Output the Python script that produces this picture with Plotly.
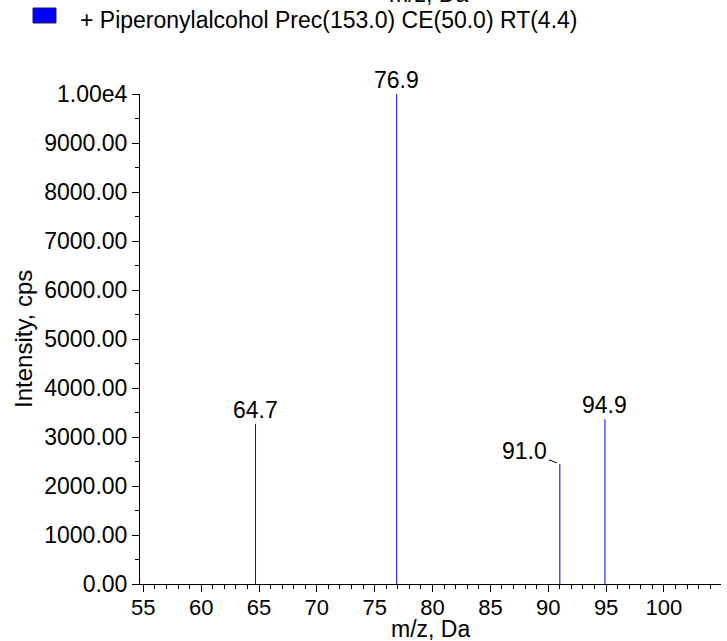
import plotly.graph_objects as go

# ---- data ----
peak_mz = [64.7, 76.9, 91.0, 94.9]
peak_intensity = [3268, 10000, 2450, 3364]
peak_labels = ["64.7", "76.9", "91.0", "94.9"]
x_tickvals = [55, 60, 65, 70, 75, 80, 85, 90, 95, 100]
y_tickvals = [0, 1000, 2000, 3000, 4000, 5000, 6000, 7000, 8000, 9000, 10000]
y_ticktext = ["0.00", "1000.00", "2000.00", "3000.00", "4000.00", "5000.00",
              "6000.00", "7000.00", "8000.00", "9000.00", "1.00e4"]
legend_text = "+ Piperonylalcohol Prec(153.0) CE(50.0) RT(4.4)"
x_title = "m/z, Da"
y_title = "Intensity, cps"
x_range = [54.715, 104.93]
y_range = [0, 10000]

FONT = "Liberation Sans, Arial, sans-serif"
W, H = 727, 641
ML, MR, MT, MB = 140, 6, 94, 57
PW, PH = W - ML - MR, H - MT - MB


def px_x(p):
    return (p - ML) / PW


def px_y(p):
    return (H - MB - p) / PH


# stick spectrum built from the peak arrays
xs, ys = [], []
for m, v in zip(peak_mz, peak_intensity):
    xs += [m, m, None]
    ys += [0, v, None]

fig = go.Figure()
fig.add_trace(go.Scatter(x=xs, y=ys, mode="lines",
                         line=dict(color="#0000FF", width=1),
                         hoverinfo="skip", showlegend=False, cliponaxis=False))

annotations = []
for m, v, t in zip(peak_mz, peak_intensity, peak_labels):
    if t == "91.0":
        annotations.append(dict(x=m, y=v, xref="x", yref="y", text=t,
                                showarrow=True, arrowhead=0, arrowwidth=1,
                                arrowcolor="black", ax=-35, ay=-13, standoff=3,
                                font=dict(family=FONT, size=23, color="black")))
    else:
        annotations.append(dict(x=m, y=v, xref="x", yref="y", text=t,
                                showarrow=False, xanchor="center", yanchor="bottom",
                                yshift=-1,
                                font=dict(family=FONT, size=23, color="black")))

# legend text and axis titles
annotations.append(dict(x=px_x(78), y=px_y(20), xref="paper", yref="paper",
                        text=legend_text, showarrow=False, xanchor="left",
                        yanchor="middle",
                        font=dict(family=FONT, size=23, color="black")))
annotations.append(dict(x=px_x(428), y=px_y(-6), xref="paper", yref="paper",
                        text=x_title, showarrow=False, xanchor="center",
                        yanchor="middle",
                        font=dict(family=FONT, size=23, color="black")))
annotations.append(dict(x=px_x(430), y=px_y(629), xref="paper", yref="paper",
                        text=x_title, showarrow=False, xanchor="center",
                        yanchor="middle",
                        font=dict(family=FONT, size=23, color="black")))
annotations.append(dict(x=px_x(23), y=px_y(339), xref="paper", yref="paper",
                        text=y_title, showarrow=False, textangle=-90,
                        xanchor="center", yanchor="middle",
                        font=dict(family=FONT, size=24, color="black")))

shapes = [
    # legend swatch
    dict(type="rect", xref="paper", yref="paper",
         x0=px_x(33), x1=px_x(56), y0=px_y(23), y1=px_y(8),
         fillcolor="#0000FF", line=dict(color="#202040", width=1)),
    # origin marker triangle
    dict(type="path", xref="x", yref="y", xsizemode="pixel", ysizemode="pixel",
         xanchor=x_range[0], yanchor=0,
         path="M -10,14.5 L 0,4.5 L -10,-4.5 Z",
         fillcolor="#0000FF", line=dict(color="black", width=1)),
]

fig.update_layout(
    width=W, height=H,
    margin=dict(l=ML, r=MR, t=MT, b=MB, autoexpand=False),
    paper_bgcolor="white", plot_bgcolor="white",
    showlegend=False,
    font=dict(family=FONT, size=22, color="black"),
    annotations=annotations,
    shapes=shapes,
    xaxis=dict(range=x_range, tickmode="array", tickvals=x_tickvals,
               automargin=False, ticklabelstandoff=-3,
               ticks="outside", ticklen=7, tickwidth=1, tickcolor="black",
               showline=True, linecolor="black", linewidth=1,
               showgrid=False, zeroline=False,
               tickfont=dict(family=FONT, size=22, color="black"),
               minor=dict(tickmode="linear", tick0=55, dtick=1, ticks="outside",
                          ticklen=4, tickcolor="black", tickwidth=1, showgrid=False)),
    yaxis=dict(range=y_range, tickmode="array", tickvals=y_tickvals,
               ticktext=y_ticktext, automargin=False,
               ticks="outside", ticklen=7, tickwidth=1, tickcolor="black",
               showline=True, linecolor="black", linewidth=1,
               showgrid=False, zeroline=False,
               tickfont=dict(family=FONT, size=23, color="black"),
               minor=dict(tickmode="linear", tick0=0, dtick=500, ticks="outside",
                          ticklen=4, tickcolor="black", tickwidth=1, showgrid=False)),
)

fig.write_html("out.html",
               config={"displayModeBar": False, "staticPlot": True},
               post_script="document.body.style.margin='0';document.body.style.overflow='hidden';")
